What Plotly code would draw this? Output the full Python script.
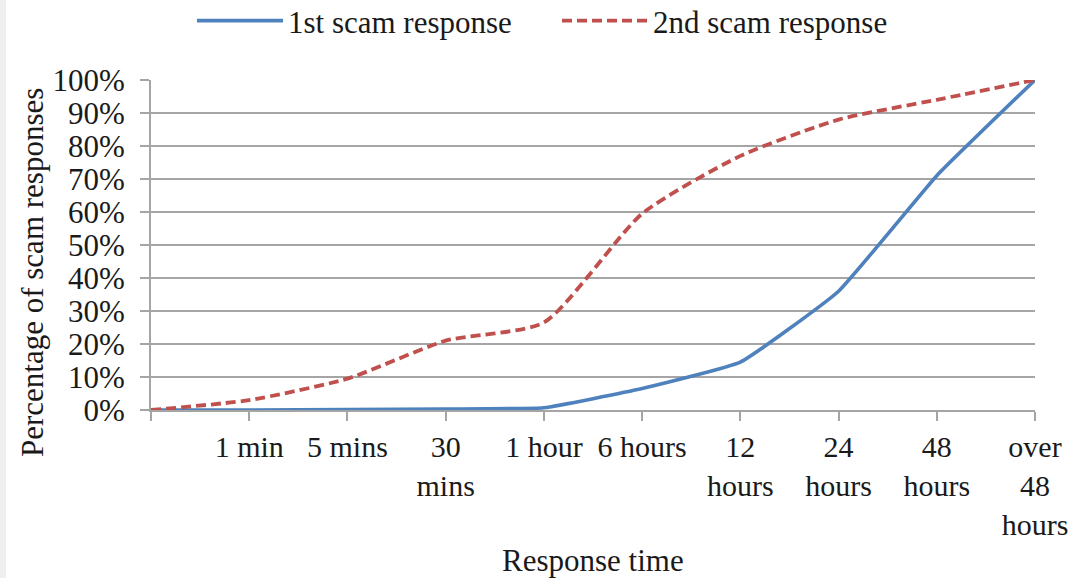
import plotly.graph_objects as go

categories = ["", "1 min", "5 mins", "30<br>mins", "1 hour", "6 hours", "12<br>hours", "24<br>hours", "48<br>hours", "over<br>48<br>hours"]
first_response = [0, 0, 0.1, 0.3, 0.7, 6.5, 14.5, 36, 71, 100]
second_response = [0, 3, 9.5, 21, 26.5, 59.5, 77, 88, 94, 100]
y_ticks = [0, 10, 20, 30, 40, 50, 60, 70, 80, 90, 100]

xpos = list(range(len(categories)))
FONT = "Liberation Serif, Times New Roman, serif"
GRID = "#a5a5a5"
FS = 31

W, H = 1073, 578
L, T = 151, 80
R = W - 1035
B = H - 410
PW, PH = W - L - R, H - T - B


def px(xp):
    return (xp - L) / PW


def py(yp):
    return (H - B - yp) / PH


fig = go.Figure()
fig.add_trace(go.Scatter(
    x=xpos, y=first_response, mode="lines", name="1st scam response",
    line=dict(color="#4F81BD", width=3.6, shape="spline", smoothing=0.35),
))
fig.add_trace(go.Scatter(
    x=xpos, y=second_response, mode="lines", name="2nd scam response",
    line=dict(color="#C0504D", width=3.8, dash="10px,5px", shape="spline", smoothing=0.6),
))

fig.update_layout(
    width=W, height=H,
    margin=dict(l=L, r=R, t=T, b=B, autoexpand=False),
    paper_bgcolor="white", plot_bgcolor="white",
    font=dict(family=FONT, size=FS, color="#1a1a1a"),
    showlegend=True,
    legend=dict(orientation="h", x=px(557), xanchor="center", y=py(21), yanchor="middle",
                yref="paper", itemwidth=86, entrywidth=264, entrywidthmode="pixels",
                font=dict(size=FS), bgcolor="rgba(0,0,0,0)"),
    shapes=[dict(type="rect", xref="paper", yref="paper",
                 x0=px(0), x1=px(6), y0=py(H), y1=py(0),
                 fillcolor="#efefef", line=dict(width=0), layer="below")],
    annotations=[
        dict(text="Percentage of scam responses", textangle=-90, showarrow=False,
             xref="paper", yref="paper", x=px(32), y=py(273),
             xanchor="center", yanchor="middle", font=dict(size=FS)),
        dict(text="Response time", showarrow=False,
             xref="paper", yref="paper", x=px(593), y=py(560),
             xanchor="center", yanchor="middle", font=dict(size=FS)),
    ],
)
fig.update_xaxes(
    range=[0, len(categories) - 1], tickmode="array", tickvals=xpos, ticktext=categories,
    showgrid=False, zeroline=False, showline=True, linecolor=GRID, linewidth=2,
    ticks="outside", ticklen=9, tickwidth=2, tickcolor=GRID, tickangle=0,
    tickfont=dict(size=30), automargin=False, fixedrange=True,
)
fig.update_yaxes(
    range=[0, 100], tickmode="array", tickvals=y_ticks,
    ticktext=[f"{v}%" for v in y_ticks],
    showgrid=True, gridcolor=GRID, gridwidth=2, zeroline=False,
    showline=True, linecolor=GRID, linewidth=2,
    ticks="outside", ticklen=9, tickwidth=2, tickcolor=GRID,
    ticklabelstandoff=9, automargin=False, fixedrange=True,
)

fig.write_html(
    "out.html",
    config={"displayModeBar": False},
    post_script="document.body.style.margin='0px';document.body.style.overflow='hidden';",
)
